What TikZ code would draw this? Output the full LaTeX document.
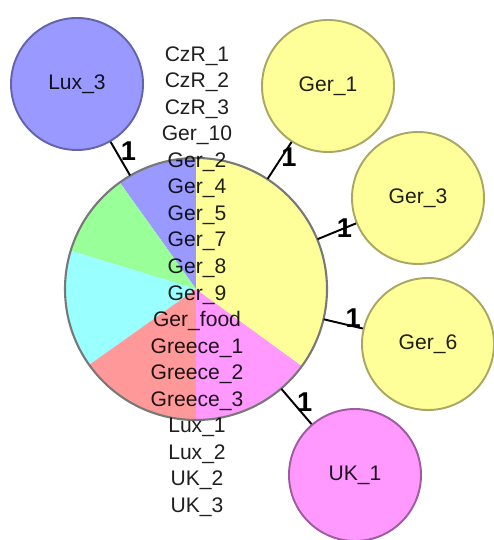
\documentclass[tikz,border=0pt]{standalone}
\usepackage{fontspec}
\setmainfont{Liberation Sans}
\definecolor{hapyellow}{RGB}{255,255,153}
\definecolor{hapblue}{RGB}{153,153,255}
\definecolor{hapgreen}{RGB}{153,255,153}
\definecolor{hapcyan}{RGB}{153,255,255}
\definecolor{hapred}{RGB}{255,153,153}
\definecolor{hapmagenta}{RGB}{255,153,255}
\definecolor{yellowline}{RGB}{168,168,100}
\definecolor{blueline}{RGB}{100,100,170}
\definecolor{magentaline}{RGB}{160,90,160}
\definecolor{hubline}{RGB}{120,120,120}
\tikzset{
    hap/.style={circle,draw,line width=1.1pt,minimum size=2.64cm,inner sep=0pt,
        font=\fontsize{12}{15}\selectfont,text opacity=0.88},
    hap yellow/.style={hap,fill=hapyellow,draw=yellowline},
    hap blue/.style={hap,fill=hapblue,draw=blueline},
    hap magenta/.style={hap,fill=hapmagenta,draw=magentaline},
    link/.style={line width=1.1pt},
    count/.style={font=\fontsize{15.5}{18}\selectfont\bfseries,inner sep=0pt},
}

\begin{document}
\begin{tikzpicture}
\useasboundingbox (0,0) rectangle (9.86,10.8);
\node[circle,minimum size=5.24cm,inner sep=0pt] (hub) at (3.92,5.02) {};
% pie of the central haplotype
\foreach \a/\b/\c in {90/125.6/hapblue,125.6/163/hapgreen,163/215.4/hapcyan,215.4/270/hapred,270/324/hapmagenta,-36/90/hapyellow}
    \fill[\c] (hub.center) -- ++(\a:2.62) arc[start angle=\a,end angle=\b,radius=2.62] -- cycle;
\draw[hubline,line width=1.2pt] (hub.center) circle (2.62);
\node[hap blue] (lux3) at (1.54,9.12) {Lux\_3};
\node[hap yellow] (ger1) at (6.56,9.08) {Ger\_1};
\node[hap yellow] (ger3) at (8.36,6.84) {Ger\_3};
\node[hap yellow] (ger6) at (8.56,3.92) {Ger\_6};
\node[hap magenta] (uk1) at (7.10,1.30) {UK\_1};
\draw[link] (hub) -- (lux3) node[count,pos=0.72,xshift=0.25cm] {1};
\draw[link] (hub) -- (ger1) node[count,pos=0.6,xshift=0.14cm] {1};
\draw[link] (hub) -- (ger3) node[count,pos=0.7] {1};
\draw[link] (hub) -- (ger6) node[count,pos=0.75,yshift=0.17cm] {1};
\draw[link] (hub) -- (uk1) node[count,pos=0.38,xshift=0.24cm] {1};
\node[align=center,font=\fontsize{12}{15.1}\selectfont,text opacity=0.88] (members) at (3.94,5.17)
    {CzR\_1\\CzR\_2\\CzR\_3\\Ger\_10\\Ger\_2\\Ger\_4\\Ger\_5\\Ger\_7\\Ger\_8\\Ger\_9\\Ger\_food\\Greece\_1\\Greece\_2\\Greece\_3\\Lux\_1\\Lux\_2\\UK\_2\\UK\_3};
\end{tikzpicture}
\end{document}
